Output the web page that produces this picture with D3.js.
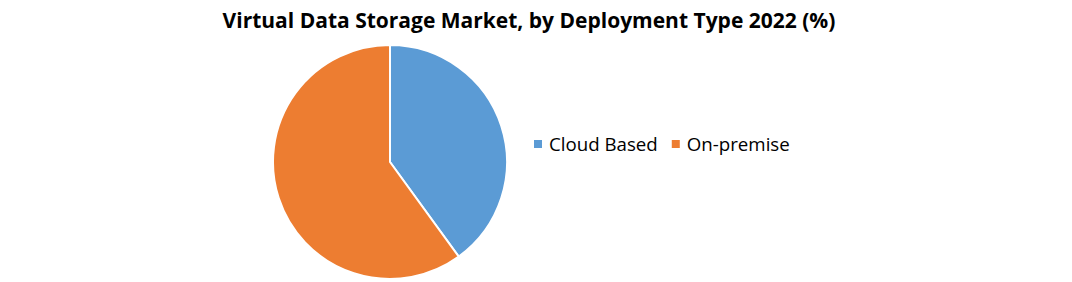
<!DOCTYPE html>
<html>
<head>
<meta charset="utf-8">
<script src="https://cdn.jsdelivr.net/npm/d3@7"></script>
<style>
  body { margin: 0; background: #fff; }
  svg { display: block; }
</style>
</head>
<body>
<svg id="chart" width="1072" height="282"></svg>
<script>
const categories = ["Cloud Based", "On-premise"]
const values = [40, 60]
const colors = ["#5B9BD5", "#ED7D31"]
const title = "Virtual Data Storage Market, by Deployment Type 2022 (%)"

const W = 1072, H = 282
const cx = 390, cy = 162, radius = 117
const svg = d3.select("#chart")

// title
svg.append("text")
  .attr("x", 529)
  .attr("y", 28)
  .attr("text-anchor", "middle")
  .style("font-family", "'Open Sans', sans-serif")
  .style("font-size", "21px")
  .style("font-weight", "bold")
  .attr("fill", "#000")
  .text(title)

// pie, starts at 12 o'clock and goes clockwise
const pie = d3.pie().sort(null).value(d => d)
const arc = d3.arc().innerRadius(0).outerRadius(radius)
const color = d3.scaleOrdinal().domain(categories).range(colors)

svg.append("g")
  .attr("transform", `translate(${cx},${cy})`)
  .selectAll("path")
  .data(pie(values))
  .enter().append("path")
  .attr("d", arc)
  .attr("fill", (d, i) => color(categories[i]))
  .attr("stroke", "#fff")
  .attr("stroke-width", 2)

// legend
const legend = svg.append("g").attr("transform", "translate(534,144)")
let lx = 0
categories.forEach((c, i) => {
  legend.append("rect")
    .attr("x", lx)
    .attr("y", -4)
    .attr("width", 8)
    .attr("height", 8)
    .attr("fill", color(c))
  const t = legend.append("text")
    .attr("x", lx + 15)
    .attr("y", 0)
    .attr("dy", "0.35em")
    .style("font-family", "'Open Sans', sans-serif")
    .style("font-size", "18.7px")
    .attr("fill", "#000")
    .text(c)
  lx += 15 + t.node().getComputedTextLength() + 14
})
</script>
</body>
</html>
